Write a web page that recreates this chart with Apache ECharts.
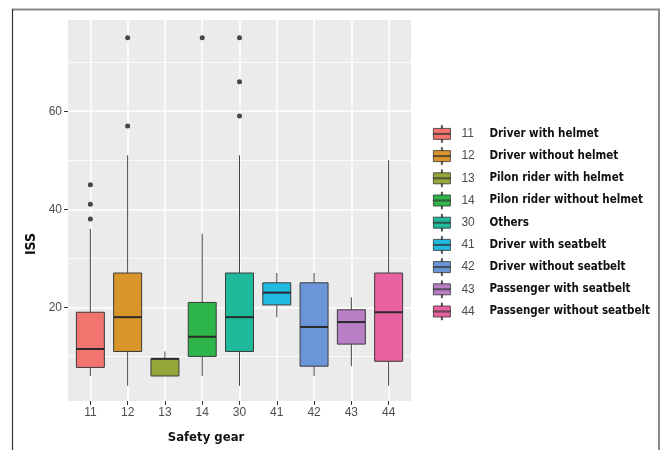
<!DOCTYPE html>
<html>
<head>
<meta charset="utf-8">
<script src="https://cdn.jsdelivr.net/npm/echarts/dist/echarts.min.js"></script>
<style>
html,body{margin:0;padding:0;background:#fff;}
#chart{width:661px;height:450px;}
</style>
</head>
<body>
<div id="chart"></div>
<script>
// ---- data ----
const categories = ['11', '12', '13', '14', '30', '41', '42', '43', '44'];
const descriptions = [
  'Driver with helmet',
  'Driver without helmet',
  'Pilon rider with helmet',
  'Pilon rider without helmet',
  'Others',
  'Driver with seatbelt',
  'Driver without seatbelt',
  'Passenger with seatbelt',
  'Passenger without seatbelt'
];
const whiskerLow  = [6,    4,    6,   6,  4,  18,   6,  8,    4];
const quartile1   = [7.75, 11,   6,   10, 11, 20.5, 8,  12.5, 9];
const medians     = [11.5, 18,   9.5, 14, 18, 23,   16, 17,   19];
const quartile3   = [19,   27,   9.5, 21, 27, 25,   25, 19.5, 27];
const whiskerHigh = [36,   51,   11,  35, 51, 27,   27, 22,   50];
const outlierValues = [[38, 41, 45], [57, 75], [], [75], [59, 66, 75], [], [], [], []];
const colors = ['#F2746E', '#D8952A', '#94A83A', '#2EB64A', '#1FBA9B', '#22B9E1', '#6A95D8', '#B87EC6', '#E8629F'];
const yMajorTicks = [20, 40, 60];
const yMinorTicks = [10, 30, 50, 70];

// ---- chart ----
const BOX_WIDTH = 0.75;
const positions = categories.map((c, i) => i + 1);

function renderBox(params, api) {
  const x = api.value(0);
  const pLo = api.coord([x, api.value(1)]);
  const pQ1 = api.coord([x, api.value(2)]);
  const pMed = api.coord([x, api.value(3)]);
  const pQ3 = api.coord([x, api.value(4)]);
  const pHi = api.coord([x, api.value(5)]);
  const w = api.size([BOX_WIDTH, 0])[0];
  const cx = pMed[0];
  const color = api.visual('color');
  return {
    type: 'group',
    children: [
      { type: 'line', shape: { x1: cx, y1: pQ1[1], x2: cx, y2: pLo[1] }, style: { stroke: '#444', lineWidth: 1 } },
      { type: 'line', shape: { x1: cx, y1: pQ3[1], x2: cx, y2: pHi[1] }, style: { stroke: '#444', lineWidth: 1 } },
      { type: 'rect', shape: { x: cx - w / 2, y: pQ3[1], width: w, height: pQ1[1] - pQ3[1] },
        style: { fill: color, stroke: '#3a3a3a', lineWidth: 1 } },
      { type: 'line', shape: { x1: cx - w / 2, y1: pMed[1], x2: cx + w / 2, y2: pMed[1] },
        style: { stroke: '#2a2a2a', lineWidth: 2 } }
    ]
  };
}

const boxSeries = categories.map((name, i) => ({
  name: name,
  type: 'custom',
  xAxisIndex: 0,
  yAxisIndex: 0,
  itemStyle: { color: colors[i] },
  renderItem: renderBox,
  encode: { x: 0, y: [1, 2, 3, 4, 5] },
  data: [[positions[i], whiskerLow[i], quartile1[i], medians[i], quartile3[i], whiskerHigh[i]]],
  z: 2
}));

const outlierData = [];
outlierValues.forEach((vals, i) => vals.forEach(v => outlierData.push([positions[i], v])));

const keyIcon = 'path://M0,3 L17,3 L17,14 L0,14 Z M0,8 L17,8 L17,9 L0,9 Z M8,0 L9,0 L9,3 L8,3 Z M8,14 L9,14 L9,17 L8,17 Z';

const option = {
  animation: false,
  backgroundColor: '#ffffff',
  grid: {
    left: 68, right: 250, top: 20, bottom: 49,
    show: true, backgroundColor: '#EBEBEB', borderWidth: 0,
    containLabel: false, outerBoundsMode: 'none'
  },
  xAxis: [{
    type: 'value', min: 0.4, max: 9.6,
    axisLine: { show: false },
    axisTick: { show: true, length: 4, customValues: positions, lineStyle: { color: '#333', width: 1 } },
    axisLabel: {
      customValues: positions, margin: 6, color: '#4D4D4D', fontSize: 12,
      fontFamily: 'Liberation Sans, Arial, sans-serif',
      formatter: v => categories[Math.round(v) - 1]
    },
    splitLine: { show: true, lineStyle: { color: '#ffffff', width: 1.5 } }
  }],
  yAxis: [{
    type: 'value', min: 0.9, max: 78.6,
    axisLine: { show: false },
    axisTick: { show: true, length: 4, customValues: yMajorTicks, lineStyle: { color: '#333', width: 1 } },
    axisLabel: { customValues: yMajorTicks, margin: 6, color: '#4D4D4D', fontSize: 12,
      fontFamily: 'Liberation Sans, Arial, sans-serif' },
    splitLine: { show: true, lineStyle: { color: '#ffffff', width: 1.5 } }
  }, {
    type: 'value', min: 0.9, max: 78.6, position: 'left',
    axisLine: { show: false },
    axisTick: { show: false, customValues: yMinorTicks },
    axisLabel: { show: false, customValues: yMinorTicks },
    splitLine: { show: true, lineStyle: { color: '#ffffff', width: 0.8 } }
  }],
  legend: {
    orient: 'vertical',
    left: 433, top: 125, padding: 0,
    itemWidth: 17, itemHeight: 17, itemGap: 4.4,
    data: categories.map(n => ({ name: n, icon: keyIcon })),
    itemStyle: { borderColor: '#333', borderWidth: 0.8 },
    selectedMode: false,
    formatter: name => `{n|${name}}{l|${descriptions[categories.indexOf(name)]}}`,
    textStyle: {
      rich: {
        n: { fontSize: 12, color: '#4D4D4D', fontFamily: 'Liberation Sans, Arial, sans-serif', width: 28, padding: [0, 0, 0, 6] },
        l: { fontSize: 11.5, fontWeight: 'bold', color: '#111', fontFamily: '"DejaVu Sans Condensed", "Liberation Sans Narrow", sans-serif' }
      }
    }
  },
  series: boxSeries.concat([{
    name: 'outliers',
    type: 'scatter',
    xAxisIndex: 0, yAxisIndex: 0,
    symbol: 'circle', symbolSize: 5,
    itemStyle: { color: '#1a1a1a' },
    data: outlierData,
    z: 3
  }]),
  graphic: [
    { type: 'line', shape: { x1: 12, y1: 9.5, x2: 660, y2: 9.5 }, style: { stroke: '#8a8a8a', lineWidth: 2 } },
    { type: 'line', shape: { x1: 659, y1: 9, x2: 659, y2: 450 }, style: { stroke: '#8a8a8a', lineWidth: 2 } },
    { type: 'line', shape: { x1: 12.5, y1: 9, x2: 12.5, y2: 450 }, style: { stroke: '#333', lineWidth: 1.2 } },
    { type: 'text', x: 206, y: 438,
      style: { text: 'Safety gear', align: 'center', verticalAlign: 'middle', fill: '#111',
        fontSize: 13, fontWeight: 'bold', fontFamily: '"DejaVu Sans Condensed", sans-serif' } },
    { type: 'text', x: 31, y: 244, rotation: Math.PI / 2,
      style: { text: 'ISS', align: 'center', verticalAlign: 'middle', fill: '#111',
        fontSize: 14, fontWeight: 'bold', fontFamily: '"DejaVu Sans Condensed", sans-serif' } }
  ]
};

const chart = echarts.init(document.getElementById('chart'), null, { renderer: 'canvas' });
chart.setOption(option);
</script>
</body>
</html>
